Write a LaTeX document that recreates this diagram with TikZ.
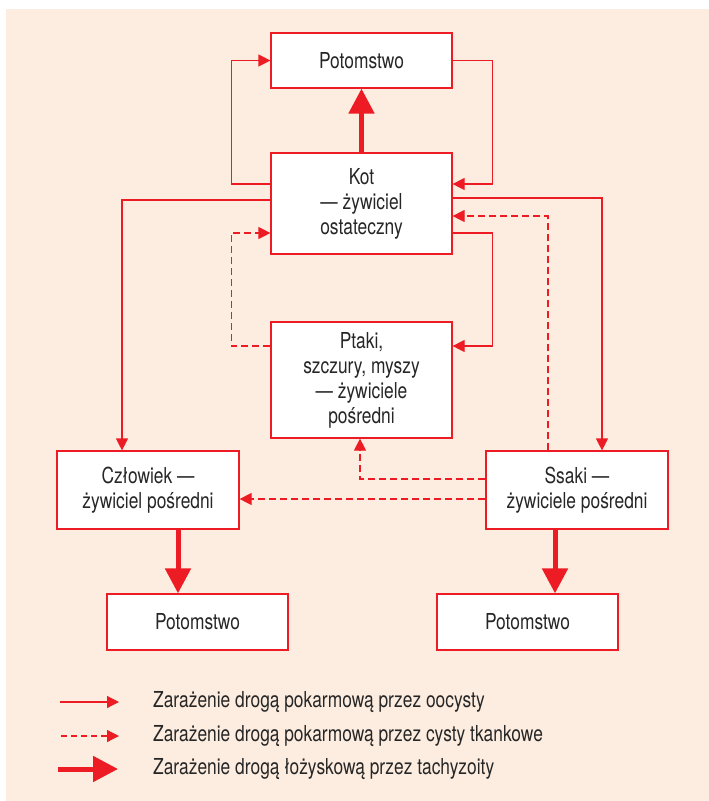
\documentclass[tikz,border=0pt]{standalone}
\usepackage{fontspec}
\setmainfont{TeX Gyre Heros}[FakeStretch=0.79]
\usetikzlibrary{arrows.meta}
\definecolor{rd}{RGB}{237,28,36}
\definecolor{bg}{RGB}{253,237,224}
\tikzset{
  box/.style={draw=rd, line width=1.2pt, fill=white, align=center, inner sep=0pt,
    font=\fontsize{22}{25}\selectfont, text=black!85},
  oo/.style={draw=rd, line width=1.2pt, -{Triangle[length=12pt,width=12pt]}},
  cy/.style={draw=rd, line width=1.2pt, dash pattern=on 7pt off 4pt, -{Triangle[length=12pt,width=12pt]}},
  tz/.style={draw=rd, line width=5pt, -{Triangle[length=25pt,width=25pt]}, shorten >=0pt},
  lg/.style={anchor=west, font=\fontsize{22}{25}\selectfont, text=black!85, inner sep=0pt}
}
\begin{document}
\begin{tikzpicture}[x=1pt,y=-1pt]
\useasboundingbox (0,0) rectangle (709,801);
\fill[bg] (6,9) rectangle (709,801);

\node[box, minimum width=181pt, minimum height=55pt] (pot1) at (361.5,60.5) {Potomstwo};
\node[box, minimum width=181pt, minimum height=101pt] (kot) at (361.5,203.5) {Kot\\— żywiciel\\ostateczny};
\node[box, minimum width=181pt, minimum height=116pt] (ptaki) at (361.5,380) {Ptaki,\\szczury, myszy\\— żywiciele\\pośredni};
\node[box, minimum width=182pt, minimum height=78pt] (czl) at (148,490) {Człowiek —\\żywiciel pośredni};
\node[box, minimum width=182pt, minimum height=78pt] (ssaki) at (577,490) {Ssaki —\\żywiciele pośredni};
\node[box, minimum width=181pt, minimum height=56pt] (potl) at (197.5,622) {Potomstwo};
\node[box, minimum width=181pt, minimum height=56pt] (potr) at (527.5,622) {Potomstwo};

% oocysty
\draw[oo] (kot.west |- 0,184) -- ++(-39,0) |- (pot1.west);
\draw[oo] (pot1.east) -- ++(40,0) |- (kot.east |- 0,184);
\draw[oo] (kot.west |- 0,200) -| (czl.north -| 122,0);
\draw[oo] (kot.east |- 0,198) -| (ssaki.north -| 602,0);
\draw[oo] (kot.east |- 0,233) -- ++(40,0) |- (ptaki.east |- 0,346);
% cysty
\draw[cy] (ptaki.west |- 0,346) -- ++(-39,0) |- (kot.west |- 0,233);
\draw[cy] (ssaki.north -| 548,0) |- (kot.east |- 0,216);
\draw[cy] (ssaki.west |- 0,479) -| (ptaki.south -| 360,0);
\draw[cy] (ssaki.west |- 0,499) -- (czl.east |- 0,499);
% tachyzoity
\draw[tz] (kot.north) -- (pot1.south);
\draw[tz] (czl.south -| 178,0) -- (potl.north -| 178,0);
\draw[tz] (ssaki.south -| 555,0) -- (potr.north -| 555,0);

% legend
\coordinate (a1) at (60,702); \coordinate (b1) at (119,702);
\coordinate (a2) at (61,736); \coordinate (b2) at (119,736);
\coordinate (a3) at (58,769); \coordinate (b3) at (118,769);
\draw[oo] (a1) -- (b1);
\draw[cy, dash pattern=on 6pt off 4pt] (a2) -- (b2);
\draw[tz] (a3) -- (b3);
\node[lg] (t1) at (153,702) {Zarażenie drogą pokarmową przez oocysty};
\node[lg] (t2) at (153,736) {Zarażenie drogą pokarmową przez cysty tkankowe};
\node[lg] (t3) at (153,769) {Zarażenie drogą łożyskową przez tachyzoity};
\end{tikzpicture}
\end{document}
